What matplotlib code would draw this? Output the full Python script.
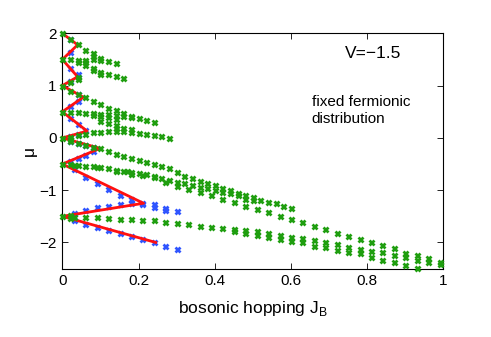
"""Phase diagram mu vs bosonic hopping J_B (V=-1.5), fixed fermionic distribution."""

import matplotlib
matplotlib.use("Agg")
import matplotlib.pyplot as plt

plt.rcParams['font.family'] = ['Liberation Sans', 'DejaVu Sans']

# red lobe boundary (J_B, mu)
red_J = [0, 0.04, 0, 0.04, 0, 0.055, 0, 0.065, 0, 0.099, 0, 0.213, 0, 0.245]
red_mu = [2.0, 1.78, 1.5, 1.17, 1.0, 0.78, 0.5, 0.13, 0.0, -0.2, -0.5, -1.25, -1.5, -2.0]

# blue points
blue_J = [0.02, 0.02, 0.04, 0.02,
          0.02, 0.04, 0.04, 0.02,
          0.02, 0.04, 0.06, 0.04, 0.02,
          0.02, 0.04, 0.06, 0.08, 0.08, 0.06, 0.04, 0.02,
          0.03, 0.06, 0.09, 0.12, 0.15, 0.18, 0.21,
          0.03, 0.06, 0.09, 0.12, 0.15, 0.18, 0.21, 0.24, 0.24, 0.27, 0.27, 0.30,
          0.03, 0.06, 0.09, 0.12, 0.15, 0.18, 0.21, 0.24, 0.27, 0.30]
blue_mu = [1.89, 1.64, 1.22, 1.33,
           1.08, 0.84, 0.70, 0.61,
           0.38, 0.27, 0.16, 0.07, 0.03,
           -0.05, -0.09, -0.13, -0.17, -0.26, -0.33, -0.39, -0.44,
           -0.60, -0.74, -0.87, -0.98, -1.09, -1.17, -1.25,
           -1.43, -1.38, -1.33, -1.30, -1.26, -1.25, -1.26, -1.26, -1.33, -1.35, -1.38, -1.40,
           -1.58, -1.65, -1.71, -1.76, -1.82, -1.87, -1.93, -2.00, -2.07, -2.12]

# green points, branch by branch
g1_J = [0, 0.02, 0.04, 0.06, 0.08, 0.08]
g1_mu = [2.0, 1.90, 1.79, 1.69, 1.62, 1.56]
g2_J = [0, 0.02, 0.04, 0.04, 0.06, 0.06, 0.08, 0.10, 0.10, 0.12, 0.14]
g2_mu = [1.5, 1.50, 1.49, 1.46, 1.49, 1.45, 1.51, 1.52, 1.49, 1.48, 1.44]
g3_J = [0.06, 0.08, 0.08, 0.10, 0.10, 0.12, 0.14, 0.16]
g3_mu = [1.40, 1.34, 1.29, 1.27, 1.23, 1.22, 1.19, 1.15]
g4_J = [0, 0.02, 0.04, 0.04]
g4_mu = [1.0, 1.07, 1.12, 1.16]
g5_J = [0.02, 0.04, 0.06, 0.08, 0.10, 0.12, 0.14, 0.16, 0.18, 0.20, 0.22, 0.24]
g5_mu = [0.90, 0.84, 0.78, 0.71, 0.65, 0.58, 0.53, 0.47, 0.42, 0.38, 0.34, 0.30]
g6_J = [0, 0.02, 0.04, 0.06, 0.08, 0.08, 0.10, 0.10, 0.12, 0.12, 0.14, 0.14, 0.16, 0.18]
g6_mu = [0.5, 0.50, 0.49, 0.48, 0.47, 0.43, 0.46, 0.41, 0.45, 0.40, 0.44, 0.37, 0.42, 0.40]
g7_J = [0.10, 0.12, 0.14, 0.14, 0.16, 0.18]
g7_mu = [0.33, 0.28, 0.24, 0.19, 0.18, 0.17]
g8_J = [0, 0.02, 0.02, 0.04, 0.06, 0.08, 0.10, 0.12, 0.14, 0.16, 0.18, 0.20, 0.22, 0.24, 0.26, 0.28]
g8_mu = [0.0, 0.01, -0.03, 0.05, 0.08, 0.11, 0.12, 0.13, 0.13, 0.13, 0.12, 0.10, 0.075, 0.06, 0.03, -0.01]
g9_J = [0.02, 0.04, 0.06, 0.08, 0.10, 0.12, 0.14, 0.16, 0.18, 0.20, 0.22, 0.24, 0.26, 0.28,
        0.30, 0.32, 0.34, 0.36, 0.38, 0.40, 0.42, 0.44, 0.46, 0.48, 0.50, 0.52, 0.54, 0.56,
        0.58, 0.60]
g9_mu = [-0.05, -0.09, -0.13, -0.17, -0.20, -0.25, -0.31, -0.34, -0.38, -0.42, -0.46, -0.50,
         -0.54, -0.58, -0.66, -0.72, -0.77, -0.82, -0.86, -0.91, -0.95, -1.00, -1.05, -1.09,
         -1.14, -1.19, -1.22, -1.25, -1.30, -1.35]
g10_J = [0.26, 0.28, 0.30, 0.32, 0.34, 0.36, 0.38, 0.40, 0.42, 0.44, 0.46, 0.48, 0.50]
g10_mu = [-0.77, -0.80, -0.84, -0.87, -0.90, -0.93, -0.96, -1.00, -1.03, -1.06, -1.10, -1.16, -1.19]
g11_J = [0.27, 0.30, 0.33, 0.36, 0.39, 0.42, 0.45, 0.48, 0.51, 0.54, 0.57, 0.60, 0.63, 0.66,
         0.69, 0.72, 0.75, 0.78, 0.81, 0.84, 0.87, 0.90, 0.93, 0.96, 0.99]
g11_mu = [-0.85, -0.92, -0.98, -1.03, -1.10, -1.17, -1.23, -1.30, -1.36, -1.42, -1.49, -1.55,
          -1.61, -1.68, -1.75, -1.81, -1.87, -1.93, -2.00, -2.05, -2.11, -2.20, -2.24, -2.30,
          -2.37]
g12_J = [0, 0.02, 0.03, 0.04, 0.06, 0.08, 0.09, 0.10, 0.12, 0.14, 0.14, 0.16, 0.17, 0.18, 0.18,
         0.20, 0.21, 0.22, 0.24, 0.24]
g12_mu = [-0.49, -0.49, -0.51, -0.51, -0.53, -0.54, -0.55, -0.55, -0.58, -0.61, -0.64, -0.63,
          -0.63, -0.66, -0.70, -0.68, -0.71, -0.70, -0.72, -0.75]
g13_J = [0, 0.02, 0.02, 0.03, 0.06, 0.09, 0.12, 0.15, 0.18, 0.21, 0.24, 0.27, 0.30, 0.33, 0.36,
         0.39, 0.42]
g13_mu = [-1.5, -1.47, -1.53, -1.51, -1.51, -1.52, -1.54, -1.55, -1.56, -1.57, -1.58, -1.60,
          -1.62, -1.65, -1.68, -1.70, -1.73]
g14_J = [0.45, 0.48, 0.51, 0.54, 0.57, 0.60, 0.63, 0.66, 0.69, 0.72, 0.75, 0.78, 0.81, 0.84,
         0.87, 0.90, 0.93, 0.96, 0.99]
g14_mu = [-1.75, -1.76, -1.79, -1.82, -1.86, -1.89, -1.92, -1.95, -2.00, -2.03, -2.08, -2.13,
          -2.16, -2.19, -2.24, -2.28, -2.34, -2.37, -2.41]
g15_J = [0.45, 0.48, 0.51, 0.54, 0.57, 0.60, 0.63, 0.66, 0.69, 0.72, 0.75, 0.78, 0.81, 0.84,
         0.87, 0.90, 0.93]
g15_mu = [-1.79, -1.82, -1.86, -1.89, -1.93, -1.97, -2.00, -2.06, -2.09, -2.14, -2.19, -2.20,
          -2.27, -2.33, -2.38, -2.44, -2.49]

green_J = (g1_J + g2_J + g3_J + g4_J + g5_J + g6_J + g7_J + g8_J + g9_J + g10_J + g11_J
           + g12_J + g13_J + g14_J + g15_J)
green_mu = (g1_mu + g2_mu + g3_mu + g4_mu + g5_mu + g6_mu + g7_mu + g8_mu + g9_mu + g10_mu
            + g11_mu + g12_mu + g13_mu + g14_mu + g15_mu)

xticks = [0, 0.2, 0.4, 0.6, 0.8, 1]
yticks = [-2, -1, 0, 1, 2]

fig = plt.figure(figsize=(4.91, 3.37), dpi=100)
ax = fig.add_axes([0.127, 0.203, 0.776, 0.698])

ax.plot(blue_J, blue_mu, 'x', color='#2f55ff', markersize=3.6, mew=2.0, zorder=2)
ax.plot(red_J, red_mu, '-', color='#ff1010', linewidth=2.0, zorder=3)
ax.plot(green_J, green_mu, 'x', color='#1f9e0f', markersize=3.6, mew=2.0, zorder=4,
        clip_on=False)

ax.set_xlim(0, 1)
ax.set_ylim(-2.5, 2)
ax.set_xticks(xticks)
ax.set_xticklabels(['0', '0.2', '0.4', '0.6', '0.8', '1'])
ax.set_yticks(yticks)
ax.set_yticklabels(['\u22122', '\u22121', '0', '1', '2'])
ax.tick_params(direction='in', top=True, right=True, length=4, width=0.6,
               labelsize=11, pad=4)
for s in ax.spines.values():
    s.set_linewidth(0.8)

ax.set_xlabel('bosonic hopping J$_\\mathregular{B}$', fontsize=12.5, labelpad=8)
ax.set_ylabel('\u03bc', fontsize=12.5, labelpad=2)

ax.text(0.742, 1.62, 'V=\u22121.5', fontsize=12.5, va='center', ha='left')
ax.text(0.654, 0.53, 'fixed fermionic\ndistribution', fontsize=11, va='center',
        ha='left', linespacing=1.25)

fig.savefig('out.png', dpi=100)
